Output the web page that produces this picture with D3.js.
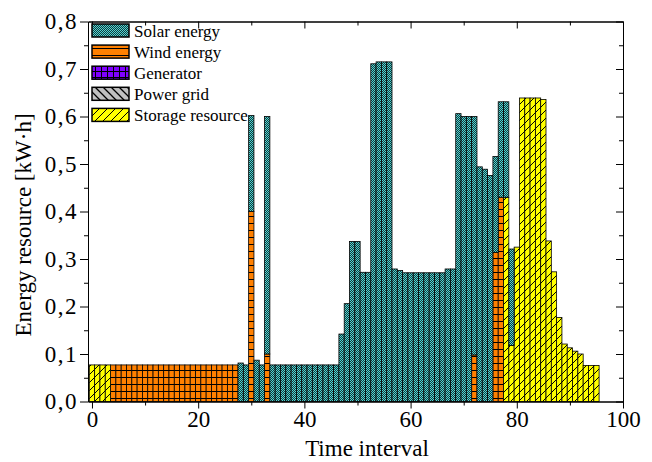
<!DOCTYPE html>
<html>
<head>
<meta charset="utf-8">
<script src="https://cdn.jsdelivr.net/npm/d3@7"></script>
<style>
  body { margin: 0; background: #fff; }
  text { font-family: "Liberation Serif", "Times New Roman", Times, serif; fill: #000; }
</style>
</head>
<body>
<div class="chart"></div>
<script>
// time intervals 0..95
let time = d3.range(96)

let solar = [0,0,0,0,
  0,0,0,0,0,0,0,0,0,0,0,0,
  0,0,0,0,0,0,0,0,0,0,0,0,
  0.081,0.077,0.202,0.087,0.077,0.500,
  0.077,0.077,0.077,0.077,0.077,0.077,0.077,0.077,0.077,0.077,0.077,0.077,0.077,
  0.142,0.206,0.337,0.337,0.272,0.272,0.711,0.715,0.715,0.715,0.279,0.276,
  0.271,0.271,0.271,0.271,0.271,0.271,0.271,0.271,
  0.279,0.279,0.606,0.600,0.600,0.502,0.494,0.489,0.476,0.202,0.201,0.201,0.203,
  0,0,0,0,0,0,0,0,0,0,0,0,0,0,0,0]

let wind = [0,0,0,0,
  0.077,0.077,0.077,0.077,0.077,0.077,0.077,0.077,0.077,0.077,0.077,0.077,
  0.077,0.077,0.077,0.077,0.077,0.077,0.077,0.077,0.077,0.077,0.077,0.077,
  0,0,0.400,0,0,0.100,
  0,0,0,0,0,0,0,0,0,0,
  0,0,0,0,0,0,0,0,0,0,
  0,0,0,0,0,0,0,0,0,0,
  0,0,0,0,0,0,0,0,
  0.098,0,0,0,0.314,0.430,
  0,0,0,0,0,0,0,0,0,0,0,0,0,0,0,0,0,0]

let generator = [0,0,0,0,0,0,0,0,0,0,0,0,0,0,0,0,0,0,0,0,0,0,0,0,
  0,0,0,0,0,0,0,0,0,0,0,0,0,0,0,0,0,0,0,0,0,0,0,0,
  0,0,0,0,0,0,0,0,0,0,0,0,0,0,0,0,0,0,0,0,0,0,0,0,
  0,0,0,0,0,0,0,0,0,0,0,0,0,0,0,0,0,0,0,0,0,0,0,0]

let grid = [0,0,0,0,0,0,0,0,0,0,0,0,0,0,0,0,0,0,0,0,0,0,0,0,
  0,0,0,0,0,0,0,0,0,0,0,0,0,0,0,0,0,0,0,0,0,0,0,0,
  0,0,0,0,0,0,0,0,0,0,0,0,0,0,0,0,0,0,0,0,0,0,0,0,
  0,0,0,0,0,0,0,0,0,0,0,0,0,0,0,0,0,0,0,0,0,0,0,0]

let storage = [0.077,0.077,0.077,0.077,
  0,0,0,0,0,0,0,0,0,0,
  0,0,0,0,0,0,0,0,0,0,
  0,0,0,0,0,0,0,0,0,0,
  0,0,0,0,0,0,0,0,0,0,
  0,0,0,0,0,0,0,0,0,0,
  0,0,0,0,0,0,0,0,0,0,
  0,0,0,0,0,0,0,0,0,0,
  0,0,0,0,
  0.430,0.118,0.325,0.639,0.639,0.639,0.639,0.636,0.338,0.273,0.177,
  0.121,0.113,0.106,0.100,0.076,0.076,0.076]

let legendNames = ["Solar energy", "Wind energy", "Generator", "Power grid", "Storage resource"]
let legendKeys = ["solar", "wind", "generator", "grid", "storage"]
// stacking bottom -> top
let stackKeys = ["wind", "generator", "grid", "storage", "solar"]

let xTicks = [0, 20, 40, 60, 80, 100]
let yTicks = [0, 0.1, 0.2, 0.3, 0.4, 0.5, 0.6, 0.7, 0.8]

let w = 652
let h = 462

let table = time.map((t, i) => ({
  t: t, solar: solar[i], wind: wind[i], generator: generator[i], grid: grid[i], storage: storage[i]
}))

let svg = d3.select(".chart")
  .append("svg")
  .attr("width", w)
  .attr("height", h)
  .style("background-color", "white")

// ---------- patterns ----------
let defs = svg.append("defs")

let pSolar = defs.append("pattern").attr("id", "p-solar")
  .attr("patternUnits", "userSpaceOnUse").attr("width", 2).attr("height", 2)
pSolar.append("rect").attr("width", 2).attr("height", 2).attr("fill", "#163a3a")
pSolar.append("rect").attr("width", 1).attr("height", 1).attr("fill", "#4fd6d6")
pSolar.append("rect").attr("x", 1).attr("y", 1).attr("width", 1).attr("height", 1).attr("fill", "#4fd6d6")

let pWind = defs.append("pattern").attr("id", "p-wind")
  .attr("patternUnits", "userSpaceOnUse").attr("width", 8).attr("height", 7)
pWind.append("rect").attr("width", 8).attr("height", 7).attr("fill", "#ff8000")
pWind.append("rect").attr("y", 6).attr("width", 8).attr("height", 1).attr("fill", "#000")

let pGen = defs.append("pattern").attr("id", "p-generator")
  .attr("patternUnits", "userSpaceOnUse").attr("width", 6).attr("height", 6)
pGen.append("rect").attr("width", 6).attr("height", 6).attr("fill", "#8000ff")
pGen.append("rect").attr("y", 5).attr("width", 6).attr("height", 1).attr("fill", "#000")
pGen.append("rect").attr("x", 5).attr("width", 1).attr("height", 6).attr("fill", "#000")

let pGrid = defs.append("pattern").attr("id", "p-grid")
  .attr("patternUnits", "userSpaceOnUse").attr("width", 8).attr("height", 8)
pGrid.append("rect").attr("width", 8).attr("height", 8).attr("fill", "#c0c0c0")
pGrid.append("path").attr("d", "M-2,-2L10,10M-2,6L2,10M6,-2L10,2")
  .attr("stroke", "#000").attr("stroke-width", 1.3)

let pStor = defs.append("pattern").attr("id", "p-storage")
  .attr("patternUnits", "userSpaceOnUse").attr("width", 8).attr("height", 8)
pStor.append("rect").attr("width", 8).attr("height", 8).attr("fill", "#ffff00")
pStor.append("path").attr("d", "M-2,10L10,-2M-2,2L2,-2M6,10L10,6")
  .attr("stroke", "#000").attr("stroke-width", 1)

// ---------- scales ----------
const xScale = d3.scaleLinear()
  .domain([-0.75, 100])
  .range([88, 623])
const yScale = d3.scaleLinear()
  .domain([0, 0.8])
  .range([401.5, 21.5])

// ---------- bars ----------
let stacked = d3.stack().keys(stackKeys)(table)

svg.append("g").selectAll("g")
  .data(stacked)
  .enter()
  .append("g")
  .attr("fill", (s) => "url(#p-" + s.key + ")")
  .selectAll("rect")
  .data((s) => s.filter((d) => d[1] - d[0] > 0))
  .enter()
  .append("rect")
  .attr("x", (d) => xScale(d.data.t - 0.5))
  .attr("width", (d) => xScale(d.data.t + 0.5) - xScale(d.data.t - 0.5))
  .attr("y", (d) => yScale(d[1]))
  .attr("height", (d) => yScale(d[0]) - yScale(d[1]))
  .attr("stroke", "#000")
  .attr("stroke-width", 0.8)

// ---------- axes ----------
let fmt = (v) => d3.format(".1f")(v).replace(".", ",")

function styleAxis(g) {
  g.attr("font-family", null).attr("font-size", null)
  g.select(".domain").attr("stroke", "#000").attr("stroke-width", 1)
  g.selectAll(".tick line").attr("stroke", "#000").attr("stroke-width", 1)
  g.selectAll("text").style("font-size", "23px").attr("fill", "#000")
}

// bottom major + minor
svg.append("g")
  .attr("transform", "translate(0," + yScale(0) + ")")
  .call(d3.axisBottom(xScale).tickValues(xTicks).tickSize(7).tickPadding(2).tickSizeOuter(0).tickFormat(d3.format("d")))
  .call(styleAxis)
svg.append("g")
  .attr("transform", "translate(0," + yScale(0) + ")")
  .call(d3.axisBottom(xScale).tickValues([10, 30, 50, 70, 90]).tickSize(4).tickSizeOuter(0).tickFormat(""))
  .call(styleAxis)

// top (inward ticks)
svg.append("g")
  .attr("transform", "translate(0," + yScale(0.8) + ")")
  .call(d3.axisBottom(xScale).tickValues(xTicks).tickSize(7).tickSizeOuter(0).tickFormat(""))
  .call(styleAxis)
svg.append("g")
  .attr("transform", "translate(0," + yScale(0.8) + ")")
  .call(d3.axisBottom(xScale).tickValues([10, 30, 50, 70, 90]).tickSize(4).tickSizeOuter(0).tickFormat(""))
  .call(styleAxis)

// left major + minor
svg.append("g")
  .attr("transform", "translate(" + xScale.range()[0] + ",0)")
  .call(d3.axisLeft(yScale).tickValues(yTicks).tickSize(8).tickPadding(2).tickSizeOuter(0).tickFormat(fmt))
  .call(styleAxis)
  .selectAll("text").style("letter-spacing", "1.5px")
svg.append("g")
  .attr("transform", "translate(" + xScale.range()[0] + ",0)")
  .call(d3.axisLeft(yScale).tickValues([0.05, 0.15, 0.25, 0.35, 0.45, 0.55, 0.65, 0.75]).tickSize(4).tickSizeOuter(0).tickFormat(""))
  .call(styleAxis)

// right (inward ticks)
svg.append("g")
  .attr("transform", "translate(" + xScale.range()[1] + ",0)")
  .call(d3.axisRight(yScale).tickValues(yTicks).tickSize(-7).tickSizeOuter(0).tickFormat(""))
  .call(styleAxis)
svg.append("g")
  .attr("transform", "translate(" + xScale.range()[1] + ",0)")
  .call(d3.axisRight(yScale).tickValues([0.05, 0.15, 0.25, 0.35, 0.45, 0.55, 0.65, 0.75]).tickSize(-4).tickSizeOuter(0).tickFormat(""))
  .call(styleAxis)

// axis titles
svg.append("text")
  .text("Time interval")
  .attr("x", 367)
  .attr("y", 456)
  .attr("text-anchor", "middle")
  .style("font-size", "23px")

svg.append("text")
  .text("Energy resource [kW·h]")
  .attr("transform", "translate(31,225) rotate(-90)")
  .attr("text-anchor", "middle")
  .style("font-size", "23px")

// ---------- legend ----------
let legend = svg.append("g").attr("id", "legend")
legend.selectAll("rect")
  .data(legendKeys)
  .enter()
  .append("rect")
  .attr("x", 92).attr("y", (d, i) => 24 + i * 21.1)
  .attr("width", 37).attr("height", 13)
  .attr("fill", (d) => "url(#p-" + d + ")")
  .attr("stroke", "#000").attr("stroke-width", 1.5)
legend.selectAll("text")
  .data(legendNames)
  .enter()
  .append("text")
  .attr("x", 134).attr("y", (d, i) => 36.5 + i * 21.1)
  .style("font-size", "17px")
  .text((d) => d)
</script>
</body>
</html>
